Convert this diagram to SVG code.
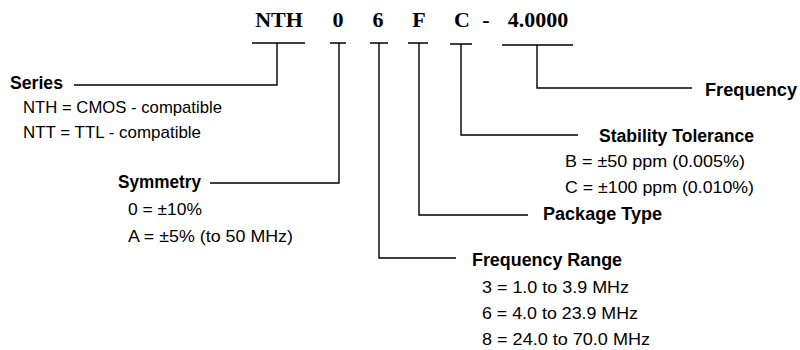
<svg xmlns="http://www.w3.org/2000/svg" width="800" height="350" viewBox="0 0 800 350">
<style>
.code{font-family:"Liberation Serif","Times New Roman",serif;font-weight:bold;font-size:22px;fill:#000;text-anchor:middle}
.h{font-family:"Liberation Sans",Arial,sans-serif;font-weight:bold;font-size:17.5px;fill:#000}
.t{font-family:"Liberation Sans",Arial,sans-serif;font-size:17px;fill:#000}
.c{fill:none;stroke:#000;stroke-width:1.4}
</style>
<rect width="800" height="350" fill="#fff"/>
<g id="code">
<text class="code" x="279" y="27">NTH</text>
<text class="code" x="338" y="27">0</text>
<text class="code" x="378" y="27">6</text>
<text class="code" x="419" y="27">F</text>
<text class="code" x="462" y="27">C</text>
<text class="code" x="486" y="27">-</text>
<text class="code" x="538" y="27">4.0000</text>
</g>
<g id="connectors">
<path class="c" d="M252 43H305M277 43V85H74"/>
<path class="c" d="M330 43H346M339 43V183H210"/>
<path class="c" d="M370 43H388M379 43V258H456"/>
<path class="c" d="M408 43H428M419 43V215H528"/>
<path class="c" d="M450 44H472M461 44V135H578"/>
<path class="c" d="M502 45H573M537 45V88H692"/>
</g>
<g id="series">
<text class="h" x="10" y="89" textLength="53" lengthAdjust="spacingAndGlyphs">Series</text>
<text class="t" x="23" y="113" textLength="199" lengthAdjust="spacingAndGlyphs">NTH = CMOS - compatible</text>
<text class="t" x="23" y="138" textLength="178" lengthAdjust="spacingAndGlyphs">NTT = TTL - compatible</text>
</g>
<g id="symmetry">
<text class="h" x="118" y="188" textLength="83" lengthAdjust="spacingAndGlyphs">Symmetry</text>
<text class="t" x="128" y="215" textLength="74" lengthAdjust="spacingAndGlyphs">0 = ±10%</text>
<text class="t" x="128" y="242" textLength="165" lengthAdjust="spacingAndGlyphs">A = ±5% (to 50 MHz)</text>
</g>
<g id="frequency-range">
<text class="h" x="472" y="266" textLength="150" lengthAdjust="spacingAndGlyphs">Frequency Range</text>
<text class="t" x="482" y="293" textLength="147" lengthAdjust="spacingAndGlyphs">3 = 1.0 to 3.9 MHz</text>
<text class="t" x="482" y="319" textLength="156" lengthAdjust="spacingAndGlyphs">6 = 4.0 to 23.9 MHz</text>
<text class="t" x="482" y="345" textLength="168" lengthAdjust="spacingAndGlyphs">8 = 24.0 to 70.0 MHz</text>
</g>
<g id="package-type">
<text class="h" x="543" y="220" textLength="119" lengthAdjust="spacingAndGlyphs">Package Type</text>
</g>
<g id="stability">
<text class="h" x="599" y="142" textLength="155" lengthAdjust="spacingAndGlyphs">Stability Tolerance</text>
<text class="t" x="565" y="167" textLength="180" lengthAdjust="spacingAndGlyphs">B = ±50 ppm (0.005%)</text>
<text class="t" x="565" y="193" textLength="189" lengthAdjust="spacingAndGlyphs">C = ±100 ppm (0.010%)</text>
</g>
<g id="frequency">
<text class="h" x="705" y="96" textLength="92" lengthAdjust="spacingAndGlyphs">Frequency</text>
</g>
</svg>
